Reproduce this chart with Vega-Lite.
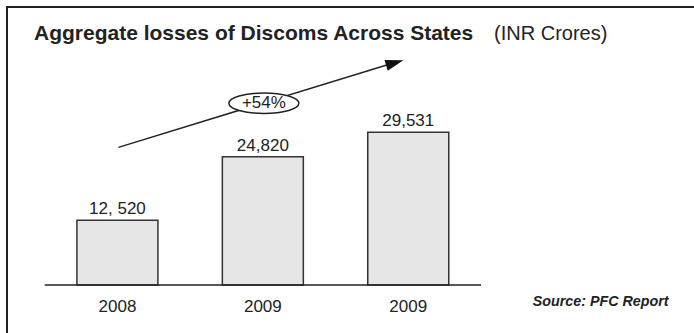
{
  "$schema": "https://vega.github.io/schema/vega-lite/v6.json",
  "width": 700,
  "height": 340,
  "autosize": {"type": "none"},
  "padding": {"left": 7, "top": 7, "right": 0, "bottom": 0},
  "background": "white",
  "config": {
    "view": {"stroke": "#222222", "strokeWidth": 2},
    "text": {"font": "Liberation Sans", "color": "#222222"}
  },
  "datasets": {
    "losses": [
      {"idx": 1, "year": "2008", "value": 12520, "label": "12, 520"},
      {"idx": 2, "year": "2009", "value": 24820, "label": "24,820"},
      {"idx": 3, "year": "2009", "value": 29531, "label": "29,531"}
    ],
    "one": [{}]
  },
  "layer": [
    {
      "data": {"name": "losses"},
      "mark": {"type": "bar", "orient": "vertical", "size": 81, "fill": "#e6e6e6", "stroke": "#333333", "strokeWidth": 1.5},
      "encoding": {
        "x": {"field": "idx", "type": "quantitative", "scale": {"domain": [0.275, 5.02], "zero": false, "nice": false}, "axis": null},
        "y": {"field": "value", "type": "quantitative", "scale": {"domain": [-12000, 53760], "zero": false, "nice": false}, "axis": null}
      }
    },
    {
      "data": {"name": "one"},
      "mark": {"type": "rule", "stroke": "#222222", "strokeWidth": 1.5},
      "encoding": {
        "x": {"datum": 0.5, "type": "quantitative", "axis": null},
        "x2": {"datum": 3.5},
        "y": {"datum": 0, "type": "quantitative", "axis": null}
      }
    },
    {
      "data": {"name": "losses"},
      "mark": {"type": "text", "fontSize": 17, "baseline": "alphabetic", "align": "center", "dy": -6},
      "encoding": {
        "x": {"field": "idx", "type": "quantitative", "axis": null},
        "y": {"field": "value", "type": "quantitative", "axis": null},
        "text": {"field": "label"}
      }
    },
    {
      "data": {"name": "losses"},
      "mark": {"type": "text", "fontSize": 17, "baseline": "middle", "align": "center", "dy": 22},
      "encoding": {
        "x": {"field": "idx", "type": "quantitative", "axis": null},
        "y": {"datum": 0, "type": "quantitative", "axis": null},
        "text": {"field": "year"}
      }
    },
    {
      "data": {"name": "one"},
      "mark": {"type": "rule", "stroke": "#222222", "strokeWidth": 1.5},
      "encoding": {
        "x": {"datum": 1.007, "type": "quantitative", "axis": null},
        "y": {"datum": 26613, "type": "quantitative", "axis": null},
        "x2": {"datum": 2.914},
        "y2": {"datum": 43073}
      }
    },
    {
      "data": {"name": "one"},
      "mark": {"type": "point", "shape": "M-1,-0.62L1,0L-1,0.62Z", "size": 324, "angle": 343.17, "filled": true, "fill": "#111111", "stroke": null, "opacity": 1},
      "encoding": {
        "x": {"datum": 2.907, "type": "quantitative", "axis": null},
        "y": {"datum": 42957, "type": "quantitative", "axis": null}
      }
    },
    {
      "data": {"name": "one"},
      "mark": {"type": "point", "shape": "M-1,0A1,0.29,0,1,1,1,0A1,0.29,0,1,1,-1,0Z", "size": 4900, "filled": false, "fill": "white", "fillOpacity": 1, "stroke": "#222222", "strokeWidth": 1.5, "opacity": 1},
      "encoding": {
        "x": {"datum": 2.007, "type": "quantitative", "axis": null},
        "y": {"datum": 35143, "type": "quantitative", "axis": null}
      }
    },
    {
      "data": {"name": "one"},
      "mark": {"type": "text", "fontSize": 17, "baseline": "middle", "align": "center", "text": "+54%"},
      "encoding": {
        "x": {"datum": 2.007, "type": "quantitative", "axis": null},
        "y": {"datum": 35143, "type": "quantitative", "axis": null}
      }
    },
    {
      "data": {"name": "one"},
      "mark": {"type": "text", "fontSize": 21, "fontWeight": "bold", "baseline": "alphabetic", "align": "left", "text": "Aggregate losses of Discoms Across States"},
      "encoding": {
        "x": {"datum": 0.4262, "type": "quantitative", "axis": null},
        "y": {"datum": 47386, "type": "quantitative", "axis": null}
      }
    },
    {
      "data": {"name": "one"},
      "mark": {"type": "text", "fontSize": 20, "baseline": "alphabetic", "align": "left", "text": "(INR Crores)"},
      "encoding": {
        "x": {"datum": 3.59, "type": "quantitative", "axis": null},
        "y": {"datum": 47386, "type": "quantitative", "axis": null}
      }
    },
    {
      "data": {"name": "one"},
      "mark": {"type": "text", "fontSize": 14.3, "fontWeight": "bold", "fontStyle": "italic", "baseline": "middle", "align": "right", "text": "Source: PFC Report"},
      "encoding": {
        "x": {"datum": 4.79, "type": "quantitative", "axis": null},
        "y": {"datum": -3230, "type": "quantitative", "axis": null}
      }
    }
  ]
}
